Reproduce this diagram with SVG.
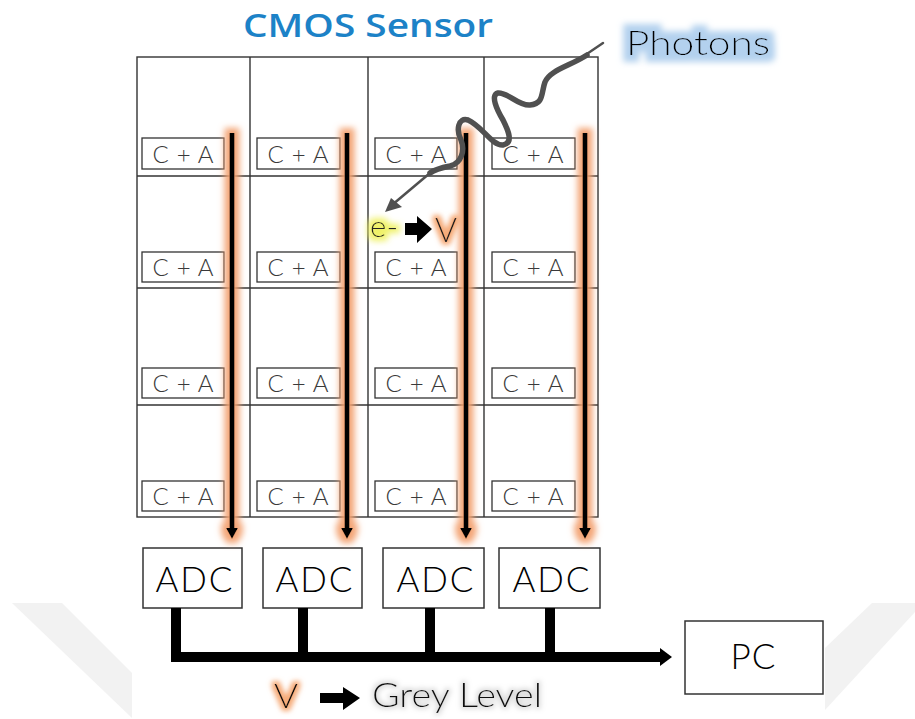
<svg xmlns="http://www.w3.org/2000/svg" width="915" height="719" viewBox="0 0 915 719">
<defs>
<style>
.t{font-family:Lato,"Open Sans","Liberation Sans",sans-serif;font-weight:300;}
.grid{fill:none;stroke:#333;stroke-width:1.4;}
.ca rect{fill:#fff;stroke:#333;stroke-width:1.3;}
.ca text{font-size:24px;fill:#3a3a3a;text-anchor:middle;}
.adc rect{fill:#fff;stroke:#333;stroke-width:1.5;}
.adc text{font-size:35px;fill:#000;text-anchor:middle;}
.chev{fill:#f2f2f2;}
</style>
<filter id="orangeGlow" x="-300%" y="-5%" width="700%" height="110%">
<feMorphology in="SourceAlpha" operator="dilate" radius="5" result="d"/>
<feGaussianBlur in="d" stdDeviation="3" result="b"/>
<feFlood flood-color="#f3a170" flood-opacity="0.95"/>
<feComposite in2="b" operator="in" result="g"/>
<feMerge><feMergeNode in="g"/><feMergeNode in="SourceGraphic"/></feMerge>
</filter>
<filter id="orangeTextGlow" x="-50%" y="-50%" width="200%" height="200%">
<feMorphology in="SourceAlpha" operator="dilate" radius="3" result="d"/>
<feGaussianBlur in="d" stdDeviation="2.5" result="b"/>
<feFlood flood-color="#f5a26a" flood-opacity="0.9"/>
<feComposite in2="b" operator="in" result="g"/>
<feMerge><feMergeNode in="g"/><feMergeNode in="SourceGraphic"/></feMerge>
</filter>
<filter id="yellowGlow" x="-50%" y="-50%" width="200%" height="200%">
<feMorphology in="SourceAlpha" operator="dilate" radius="4" result="d"/>
<feGaussianBlur in="d" stdDeviation="3" result="b"/>
<feFlood flood-color="#eef05a" flood-opacity="0.9"/>
<feComposite in2="b" operator="in" result="g"/>
<feMerge><feMergeNode in="g"/><feMergeNode in="SourceGraphic"/></feMerge>
</filter>
<filter id="blueGlow" x="-20%" y="-50%" width="140%" height="200%">
<feMorphology in="SourceAlpha" operator="dilate" radius="7" result="d"/>
<feGaussianBlur in="d" stdDeviation="3" result="b"/>
<feFlood flood-color="#b3d1ee" flood-opacity="1"/>
<feComposite in2="b" operator="in" result="g"/>
<feMerge><feMergeNode in="g"/><feMergeNode in="SourceGraphic"/></feMerge>
</filter>
<filter id="greyGlow" x="-20%" y="-50%" width="140%" height="200%">
<feMorphology in="SourceAlpha" operator="dilate" radius="2" result="d"/>
<feGaussianBlur in="d" stdDeviation="2.5" result="b"/>
<feFlood flood-color="#bbbbbb" flood-opacity="0.5"/>
<feComposite in2="b" operator="in" result="g"/>
<feMerge><feMergeNode in="g"/><feMergeNode in="SourceGraphic"/></feMerge>
</filter>
<linearGradient id="chevL" x1="0" y1="0" x2="0" y2="1">
<stop offset="0" stop-color="#f0f0f0"/><stop offset="1" stop-color="#f9f9f9"/>
</linearGradient>
</defs>
<rect width="915" height="719" fill="#fff"/>

<g id="background">
<polygon class="chev" fill="url(#chevL)" points="12,603 62,603 132,673 132,718"/>
<polygon class="chev" fill="url(#chevL)" points="872,603 915,603 915,612 825,710 825,648"/>
</g>

<g id="title">
<text x="243" y="37" textLength="250" lengthAdjust="spacingAndGlyphs" style="font-family:'Open Sans','DejaVu Sans',sans-serif;font-weight:600;font-size:33px;fill:#1c82c7">CMOS Sensor</text>
</g>

<g id="sensor-grid">
<rect class="grid" x="137" y="57" width="461" height="460"/>
<line class="grid" x1="250" y1="57" x2="250" y2="517"/>
<line class="grid" x1="368" y1="57" x2="368" y2="517"/>
<line class="grid" x1="484" y1="57" x2="484" y2="517"/>
<line class="grid" x1="137" y1="176" x2="598" y2="176"/>
<line class="grid" x1="137" y1="288" x2="598" y2="288"/>
<line class="grid" x1="137" y1="405" x2="598" y2="405"/>
</g>

<g id="ca-r1c1" class="ca t"><rect x="142" y="138" width="82" height="31"/><text x="183" y="163" textLength="61">C + A</text></g>
<g id="ca-r1c2" class="ca t"><rect x="257" y="138" width="83" height="31"/><text x="298" y="163" textLength="61">C + A</text></g>
<g id="ca-r1c3" class="ca t"><rect x="375" y="138" width="82" height="31"/><text x="416" y="163" textLength="61">C + A</text></g>
<g id="ca-r1c4" class="ca t"><rect x="492" y="138" width="83" height="31"/><text x="533" y="163" textLength="61">C + A</text></g>

<g id="ca-r2c1" class="ca t"><rect x="142" y="252" width="82" height="30"/><text x="183" y="276" textLength="61">C + A</text></g>
<g id="ca-r2c2" class="ca t"><rect x="257" y="252" width="83" height="30"/><text x="298" y="276" textLength="61">C + A</text></g>
<g id="ca-r2c3" class="ca t"><rect x="375" y="252" width="82" height="30"/><text x="416" y="276" textLength="61">C + A</text></g>
<g id="ca-r2c4" class="ca t"><rect x="492" y="252" width="83" height="30"/><text x="533" y="276" textLength="61">C + A</text></g>

<g id="ca-r3c1" class="ca t"><rect x="142" y="368" width="82" height="30"/><text x="183" y="392" textLength="61">C + A</text></g>
<g id="ca-r3c2" class="ca t"><rect x="257" y="368" width="83" height="30"/><text x="298" y="392" textLength="61">C + A</text></g>
<g id="ca-r3c3" class="ca t"><rect x="375" y="368" width="82" height="30"/><text x="416" y="392" textLength="61">C + A</text></g>
<g id="ca-r3c4" class="ca t"><rect x="492" y="368" width="83" height="30"/><text x="533" y="392" textLength="61">C + A</text></g>

<g id="ca-r4c1" class="ca t"><rect x="142" y="481" width="82" height="30"/><text x="183" y="505" textLength="61">C + A</text></g>
<g id="ca-r4c2" class="ca t"><rect x="257" y="481" width="83" height="30"/><text x="298" y="505" textLength="61">C + A</text></g>
<g id="ca-r4c3" class="ca t"><rect x="375" y="481" width="82" height="30"/><text x="416" y="505" textLength="61">C + A</text></g>
<g id="ca-r4c4" class="ca t"><rect x="492" y="481" width="83" height="30"/><text x="533" y="505" textLength="61">C + A</text></g>

<g id="adc1" class="adc t"><rect x="143" y="548" width="99" height="60"/><text x="194" y="592" textLength="77">ADC</text></g>
<g id="adc2" class="adc t"><rect x="263" y="548" width="99" height="60"/><text x="314" y="592" textLength="77">ADC</text></g>
<g id="adc3" class="adc t"><rect x="383" y="548" width="101" height="60"/><text x="435" y="592" textLength="77">ADC</text></g>
<g id="adc4" class="adc t"><rect x="499" y="548" width="101" height="60"/><text x="551" y="592" textLength="77">ADC</text></g>

<g id="pc" class="adc t"><rect x="685" y="621" width="138" height="73"/><text x="753" y="669" textLength="45" style="font-size:35px">PC</text></g>

<g id="connectors">
<g id="column-readouts" filter="url(#orangeGlow)" fill="#000">
<rect x="229.5" y="133" width="5" height="397"/><polygon points="226,528 238,528 232,539"/>
<rect x="344.5" y="133" width="5" height="397"/><polygon points="341,528 353,528 347,539"/>
<rect x="463.5" y="133" width="5" height="397"/><polygon points="460,528 472,528 466,539"/>
<rect x="582.5" y="133" width="5" height="397"/><polygon points="579,528 591,528 585,539"/>
</g>
<g id="bus" fill="#000">
<rect x="171" y="608" width="10" height="54"/>
<rect x="298" y="608" width="10" height="54"/>
<rect x="425" y="608" width="10" height="54"/>
<rect x="545" y="608" width="10" height="54"/>
<rect x="171" y="652" width="490" height="10"/>
<polygon points="660,648 672,657 660,666"/>
</g>
<g id="photon-path" fill="none" stroke="#505050" stroke-linecap="round" stroke-linejoin="round">
<path d="M603,43 L575,62" stroke-width="2.5"/>
<path d="M587,55 C570,66 550,70 545,82 C541,93 544,104 530,105 C518,106 508,92 498,93 C490,95 497,110 503,120 C508,130 514,143 503,145 C492,146 482,126 468,120 C458,117 456,130 461,140 C465,150 462,163 450,166 C440,168 434,170 430,173" stroke-width="5.5"/>
<path d="M430,173 L392,205" stroke-width="2.5"/>
<polygon points="385,212 391,198 402,207" fill="#505050" stroke="none"/>
</g>
</g>

<g id="photons-label">
<text class="t" x="626" y="55" textLength="144" lengthAdjust="spacingAndGlyphs" filter="url(#blueGlow)" style="font-size:34px;fill:#000">Photons</text>
</g>

<g id="conversion">
<text class="t" x="370" y="237" textLength="28" lengthAdjust="spacingAndGlyphs" filter="url(#yellowGlow)" style="font-size:30px;fill:#222">e-</text>
<polygon points="405,223 417,223 417,216 432,229 417,243 417,235 405,235" fill="#000"/>
<text class="t" x="435" y="242" textLength="22" lengthAdjust="spacingAndGlyphs" filter="url(#orangeTextGlow)" style="font-size:33px;fill:#222">V</text>
</g>

<g id="legend">
<text class="t" x="274" y="708" textLength="24" lengthAdjust="spacingAndGlyphs" filter="url(#orangeTextGlow)" style="font-size:34px;fill:#111">V</text>
<polygon points="320,693 343,693 343,687 360,698 343,710 343,703 320,703" fill="#000"/>
<text class="t" x="372" y="707" textLength="170" lengthAdjust="spacingAndGlyphs" filter="url(#greyGlow)" style="font-size:33px;fill:#111">Grey Level</text>
</g>
</svg>
